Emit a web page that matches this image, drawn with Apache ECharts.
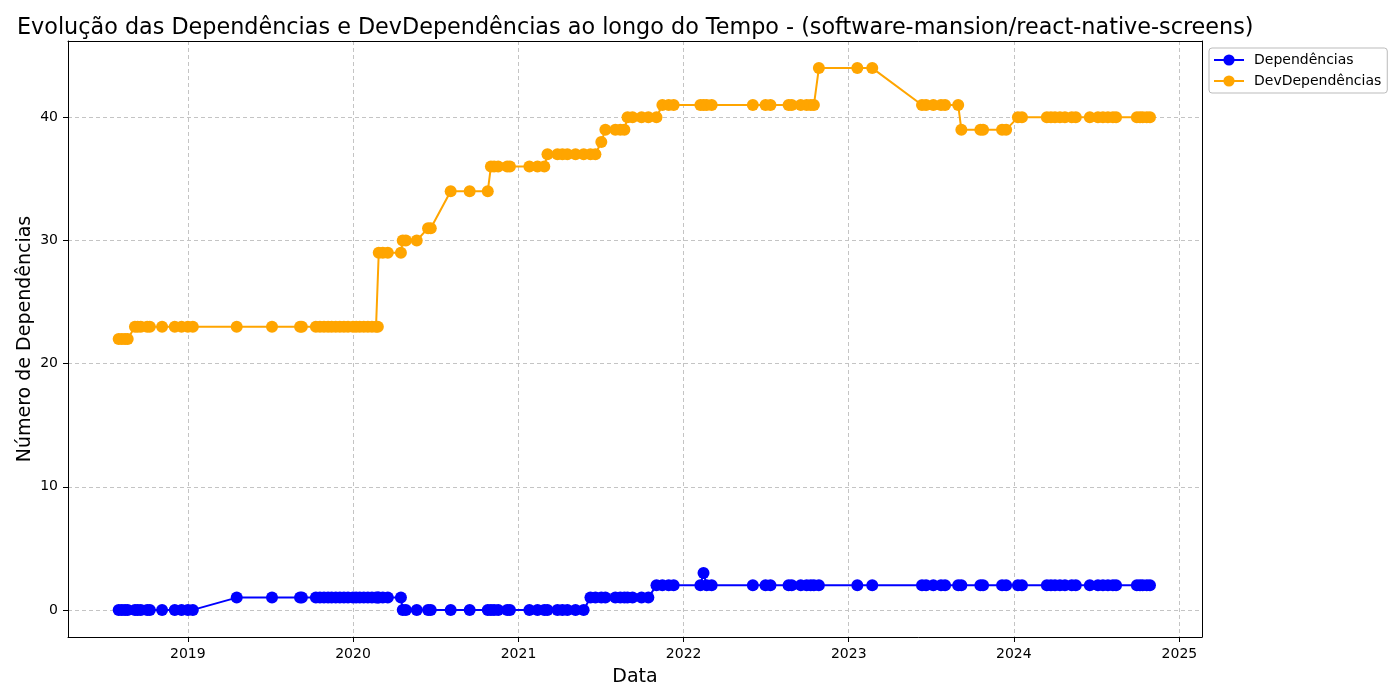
<!DOCTYPE html>
<html>
<head>
<meta charset="utf-8">
<script src="https://cdn.jsdelivr.net/npm/echarts@6/dist/echarts.min.js"></script>
<style>
html,body{margin:0;padding:0;background:#fff;}
#chart{width:1400px;height:700px;}
</style>
</head>
<body>
<div id="chart"></div>
<script>
const dates = [
'2018-08-01','2018-08-08','2018-08-15','2018-08-21','2018-09-06','2018-09-12','2018-09-19','2018-10-03','2018-10-09','2018-11-05','2018-12-03','2018-12-18','2019-01-01','2019-01-12',
'2019-04-19','2019-07-06','2019-09-06','2019-09-10',
'2019-10-11','2019-10-20','2019-10-29','2019-11-07','2019-11-15','2019-11-24','2019-12-03','2019-12-12','2019-12-21',
'2020-01-01','2020-01-08','2020-01-16','2020-01-25','2020-02-03','2020-02-12','2020-02-21','2020-02-25',
'2020-02-27','2020-03-07','2020-03-18','2020-04-16',
'2020-04-20','2020-04-27','2020-05-21','2020-06-15','2020-06-21',
'2020-08-04','2020-09-15','2020-10-25',
'2020-11-01','2020-11-08','2020-11-17','2020-12-07','2020-12-13',
'2021-01-25','2021-02-12','2021-02-27','2021-03-06','2021-03-28','2021-04-08','2021-04-19','2021-05-07','2021-05-25',
'2021-06-09','2021-06-20','2021-07-03','2021-07-12','2021-08-03','2021-08-14','2021-08-23','2021-08-30','2021-09-10','2021-09-30','2021-10-15',
'2021-11-02','2021-11-15','2021-11-29','2021-12-10',
'2022-02-07','2022-02-14','2022-02-21','2022-03-04',
'2022-06-03','2022-07-01','2022-07-12','2022-08-21','2022-08-28','2022-09-17','2022-09-30','2022-10-09','2022-10-16',
'2022-10-27','2023-01-20','2023-02-22',
'2023-06-12','2023-06-21','2023-07-07','2023-07-24','2023-08-02','2023-08-31',
'2023-09-07','2023-10-19','2023-10-25','2023-12-06','2023-12-15',
'2024-01-10','2024-01-19',
'2024-03-14','2024-03-23','2024-04-01','2024-04-12','2024-04-23','2024-05-08','2024-05-17',
'2024-06-17','2024-07-05','2024-07-16','2024-07-27','2024-08-07','2024-08-14',
'2024-09-29','2024-10-06','2024-10-12','2024-10-21','2024-10-28'
];

const dependencias = [
0,0,0,0,0,0,0,0,0,0,0,0,0,0,
1,1,1,1,
1,1,1,1,1,1,1,1,1,
1,1,1,1,1,1,1,1,
1,1,1,1,
0,0,0,0,0,
0,0,0,
0,0,0,0,0,
0,0,0,0,0,0,0,0,0,
1,1,1,1,1,1,1,1,1,1,1,
2,2,2,2,
2,3,2,2,
2,2,2,2,2,2,2,2,2,
2,2,2,
2,2,2,2,2,2,
2,2,2,2,2,
2,2,
2,2,2,2,2,2,2,
2,2,2,2,2,2,
2,2,2,2,2
];

const devDependencias = [
22,22,22,22,23,23,23,23,23,23,23,23,23,23,
23,23,23,23,
23,23,23,23,23,23,23,23,23,
23,23,23,23,23,23,23,23,
29,29,29,29,
30,30,30,31,31,
34,34,34,
36,36,36,36,36,
36,36,36,37,37,37,37,37,37,
37,37,38,39,39,39,39,40,40,40,40,
40,41,41,41,
41,41,41,41,
41,41,41,41,41,41,41,41,41,
44,44,44,
41,41,41,41,41,41,
39,39,39,39,39,
40,40,
40,40,40,40,40,40,40,
40,40,40,40,40,40,
40,40,40,40,40
];

const seriesNames = ['Dependências', 'DevDependências'];
const titleText = 'Evolução das Dependências e DevDependências ao longo do Tempo - (software-mansion/react-native-screens)';
const xLabelText = 'Data';
const yLabelText = 'Número de Dependências';

const FONT = 'DejaVu Sans';
const chart = echarts.init(document.getElementById('chart'), null, {renderer: 'canvas'});

function zip(vals) { return dates.map((d, i) => [d, vals[i]]); }

const lineSeries = (name, vals, color) => ({
  name: name,
  type: 'line',
  data: zip(vals),
  symbol: 'circle',
  symbolSize: 12,
  showAllSymbol: true,
  lineStyle: {color: color, width: 2},
  itemStyle: {color: color},
  emphasis: {disabled: true},
  z: 3
});

const X_MIN = '2018-04-11', X_MAX = '2025-02-20';
const Y_MIN = -2.2, Y_MAX = 46.2;

chart.setOption({
  animation: false,
  backgroundColor: '#fff',
  textStyle: {fontFamily: FONT},
  title: {
    text: titleText,
    left: 12,
    top: 12,
    textStyle: {fontFamily: FONT, fontSize: 22.3, fontWeight: 'normal', color: '#000'}
  },
  legend: {
    orient: 'vertical',
    left: 1209,
    top: 48,
    padding: [5, 6, 5, 4],
    itemGap: 7,
    itemWidth: 30,
    itemHeight: 14,
    borderColor: '#bbbbbb',
    borderWidth: 1,
    borderRadius: 3,
    backgroundColor: '#fff',
    textStyle: {fontFamily: FONT, fontSize: 14, color: '#000', padding: [0, 0, 0, 5]},
    data: seriesNames
  },
  grid: {
    left: 68, right: 198, top: 41, bottom: 63
  },
  xAxis: [{
    type: 'time',
    min: X_MIN,
    max: X_MAX,
    minInterval: 365 * 24 * 3600 * 1000,
    name: xLabelText,
    nameLocation: 'middle',
    nameGap: 31,
    nameTextStyle: {fontFamily: FONT, fontSize: 19, color: '#000'},
    axisLine: {show: true, onZero: false, lineStyle: {color: '#000', width: 1}},
    axisTick: {show: true, length: 5, lineStyle: {color: '#000'}},
    axisLabel: {
      fontFamily: FONT, fontSize: 14, color: '#000', margin: 10,
      showMinLabel: false, showMaxLabel: false,
      formatter: function (v) {
        const d = new Date(v);
        return (d.getMonth() === 0 && d.getDate() === 1) ? String(d.getFullYear()) : '';
      }
    },
    splitLine: {show: true, lineStyle: {color: '#c4c4c4', type: [4, 3], width: 1}}
  }, {
    type: 'time',
    position: 'top',
    min: X_MIN,
    max: X_MAX,
    axisLine: {show: true, onZero: false, lineStyle: {color: '#000', width: 1}},
    axisTick: {show: false},
    axisLabel: {show: false},
    splitLine: {show: false},
    z: 10
  }],
  yAxis: [{
    type: 'value',
    min: Y_MIN,
    max: Y_MAX,
    name: yLabelText,
    nameLocation: 'middle',
    nameGap: 33,
    nameMoveOverlap: false,
    nameTextStyle: {fontFamily: FONT, fontSize: 19, color: '#000'},
    axisLine: {show: true, onZero: false, lineStyle: {color: '#000', width: 1}},
    axisTick: {show: true, length: 5, lineStyle: {color: '#000'}},
    axisLabel: {
      fontFamily: FONT, fontSize: 14, color: '#000', margin: 10,
      showMinLabel: false, showMaxLabel: false,
      formatter: function (v) { return (Math.abs(v % 10) < 1e-9) ? String(v) : ''; }
    },
    splitLine: {show: true, lineStyle: {color: '#c4c4c4', type: [4, 3], width: 1}}
  }, {
    type: 'value',
    position: 'right',
    min: Y_MIN,
    max: Y_MAX,
    axisLine: {show: true, onZero: false, lineStyle: {color: '#000', width: 1}},
    axisTick: {show: false},
    axisLabel: {show: false},
    splitLine: {show: false},
    z: 10
  }],
  series: [
    lineSeries(seriesNames[0], dependencias, '#0000ff'),
    lineSeries(seriesNames[1], devDependencias, '#ffa500')
  ]
});
</script>
</body>
</html>
